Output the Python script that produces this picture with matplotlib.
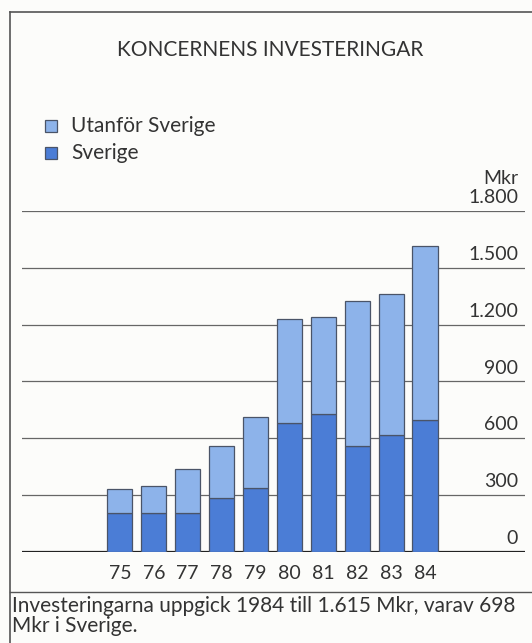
import matplotlib.pyplot as plt
from matplotlib.patches import Rectangle
from matplotlib.lines import Line2D

# investments per year, Mkr
years = ["75", "76", "77", "78", "79", "80", "81", "82", "83", "84"]
sverige = [207, 207, 207, 284, 337, 678, 726, 558, 618, 698]
totalt = [331, 349, 439, 558, 712, 1227, 1241, 1322, 1362, 1615]
utanfor = [t - s for t, s in zip(totalt, sverige)]
yticks = [0, 300, 600, 900, 1200, 1500, 1800]
ytick_labels = ["0", "300", "600", "900", "1.200", "1.500", "1.800"]

light = "#8db3ea"
dark = "#4b7dd6"
edge = "#4a5468"
txt = "#333333"
font = "Lato"

W, H = 532, 643
fig = plt.figure(figsize=(W / 100, H / 100), dpi=100)
fig.patch.set_facecolor("#fcfcfa")

def fx(px):
    return px / W

def fy(py):
    return 1 - py / H

# plot area
ax = fig.add_axes([fx(22), fy(551.7), fx(525 - 22), fy(211) - fy(551.7)])
ax.set_facecolor("none")
ax.set_ylim(0, 1800)
ax.set_xlim(-2.89, 11.95)
for s in ax.spines.values():
    s.set_visible(False)
ax.set_xticks([])
ax.set_yticks([])

# gridlines with labels sitting on top of them at the right
for v, lab in zip(yticks, ytick_labels):
    ax.axhline(v, color="#222222" if v == 0 else "#666666",
               lw=1.6 if v == 0 else 0.9, zorder=1)
    ax.text(11.75, v + 25, lab, ha="right", va="bottom", fontsize=14,
            color=txt, family=font)
ax.text(11.75, 1800 + 125, "Mkr", ha="right", va="bottom", fontsize=14,
        color=txt, family=font, clip_on=False)

x = list(range(len(years)))
ax.bar(x, sverige, width=0.74, color=dark, edgecolor=edge, linewidth=0.9, zorder=2)
ax.bar(x, utanfor, bottom=sverige, width=0.74, color=light, edgecolor=edge,
       linewidth=0.9, zorder=2)
for xi, y in zip(x, years):
    ax.text(xi, -70, y, ha="center", va="top", fontsize=14, color=txt,
            family=font, clip_on=False)

# frame lines
fig.add_artist(Line2D([fx(10), fx(10)], [fy(12), fy(643)], color="#555555", lw=1.2))
fig.add_artist(Line2D([fx(10), fx(532)], [fy(12), fy(12)], color="#555555", lw=1.2))
fig.add_artist(Line2D([fx(10), fx(532)], [fy(592), fy(592)], color="#555555", lw=1.0))

fig.text(fx(270), fy(50), "KONCERNENS INVESTERINGAR", ha="center", va="center",
         fontsize=15, color=txt, family=font)

# legend
for py, col, lab in [(126, light, "Utanför Sverige"), (153, dark, "Sverige")]:
    fig.add_artist(Rectangle((fx(45), fy(py + 6)), fx(12), fy(py - 6) - fy(py + 6),
                             facecolor=col, edgecolor=edge, lw=0.9))
    fig.text(fx(71), fy(py), lab, ha="left", va="center", fontsize=15,
             color=txt, family=font)

fig.text(fx(12), fy(606), "Investeringarna uppgick 1984 till 1.615 Mkr, varav 698",
         ha="left", va="center", fontsize=15, color=txt, family=font)
fig.text(fx(12), fy(626), "Mkr i Sverige.", ha="left", va="center",
         fontsize=15, color=txt, family=font)

fig.savefig("out.png", dpi=100, facecolor=fig.get_facecolor())
